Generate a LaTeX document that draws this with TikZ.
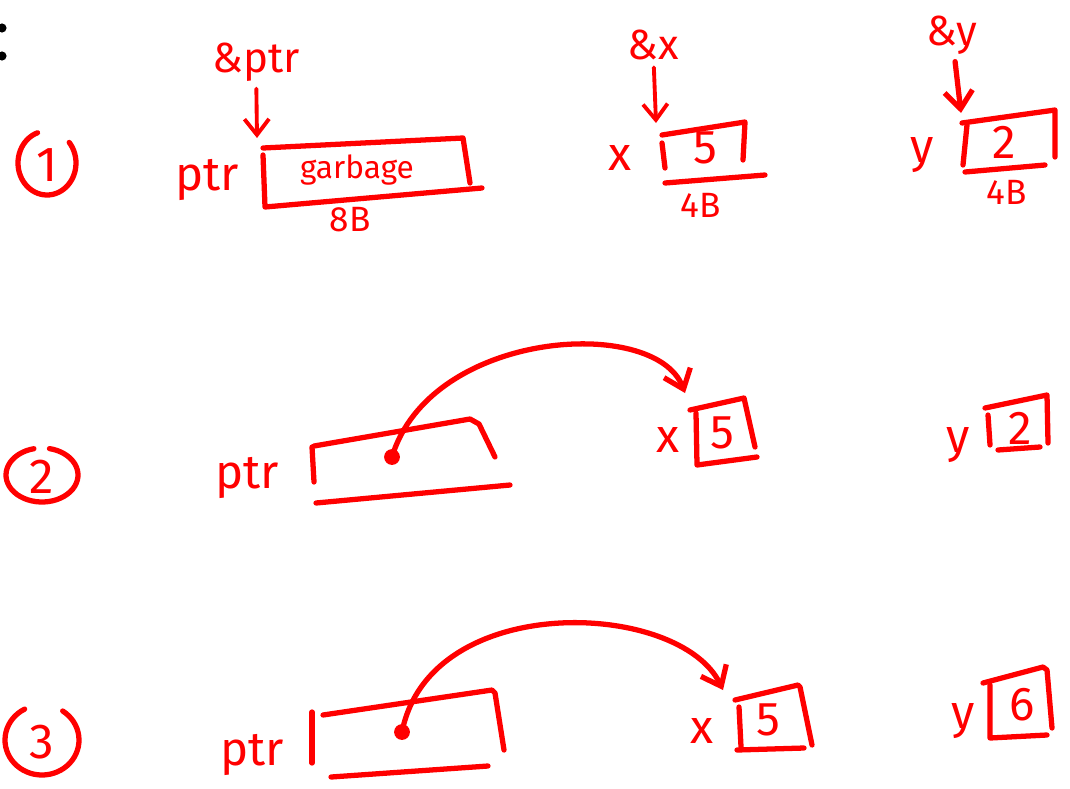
\documentclass[tikz,border=0pt]{standalone}
\usepackage{fontspec}
\setmainfont{Fira Sans}
\usetikzlibrary{arrows.meta,positioning}
\definecolor{inkred}{RGB}{255,0,0}

\begin{document}
\begin{tikzpicture}[x=0.02cm, y=-0.02cm,
        ink/.style={draw=inkred, line width=3pt, line cap=round, line join=round},
        arrow/.style={ink, line width=2.2pt, shorten <=4pt, -{Straight Barb[length=9pt, width=14pt]}},
        ptrarrow/.style={ink, -{Straight Barb[length=10pt, width=16pt]}},
        dot/.style={circle, fill=inkred, inner sep=0pt, minimum size=9pt},
        stepnum/.style={text=inkred, inner sep=0pt, font=\fontsize{28}{28}\selectfont},
        varname/.style={text=inkred, inner sep=0pt, font=\fontsize{27}{27}\selectfont},
        addr/.style={text=inkred, inner sep=0pt, font=\fontsize{24}{24}\selectfont},
        cell/.style={text=inkred, inner sep=0pt, font=\fontsize{27}{27}\selectfont},
        bytes/.style={text=inkred, inner sep=0pt, font=\fontsize{20}{20}\selectfont}]

        \useasboundingbox (0,0) rectangle (1070,788);

        % colon cut off at the edge
        \fill (2,28) circle[radius=2.6pt];
        \fill (2,56) circle[radius=2.6pt];

        % Step 1
        \node[stepnum] (n1) at (47,165) {1};
        \draw[ink] plot[domain=-40:251, samples=50] ({47+29*cos(\x)},{163+32*sin(\x)});

        \node[addr] (aptr) at (256,62) {\&ptr};
        \coordinate (ptrtip) at (257,138);
        \draw[arrow] (aptr) -- (ptrtip);
        \node[varname] (ptr1) at (207,180) {ptr};
        \draw[ink] (263,155) -- (265,207) -- (482,188);
        \draw[ink] (263,148) -- (463,138) -- (470,183);
        \node[text=inkred, font=\fontsize{18}{18}\selectfont] (garb) at (357,170) {garbage};
        \node[bytes] (sz1) at (350,220) {8B};

        \node[addr] (ax) at (653,45) {\&x};
        \coordinate (xtip) at (656,123);
        \draw[arrow] (ax) -- (xtip);
        \node[varname] (x1) at (620,158) {x};
        \draw[ink] (662,143) -- (665,168);
        \draw[ink] (662,135) -- (745,122) -- (743,160);
        \draw[ink] (665,183) -- (765,175);
        \node[cell] (vx1) at (705,148) {5};
        \node[bytes] (sz2) at (701,205) {4B};

        \node[addr] (ay) at (952,35) {\&y};
        \coordinate (ytip) at (961,113);
        \draw[ptrarrow, shorten <=4pt] (ay) -- (ytip);
        \node[varname] (y1) at (922,155) {y};
        \draw[ink] (962,123) -- (1055,110) -- (1055,157);
        \draw[ink] (967,125) -- (963,165);
        \draw[ink] (965,172) -- (1045,165);
        \node[cell] (vy1) at (1004,142) {2};
        \node[bytes] (sz3) at (1007,192) {4B};

        % Step 2
        \node[stepnum] (n2) at (42,477) {2};
        \draw[ink] plot[domain=-78:257, samples=50] ({42+36*cos(\x)},{475+27*sin(\x)});

        \node[varname] (ptr2) at (247,478) {ptr};
        \draw[ink] (312,447) -- (314,482);
        \draw[ink] (314,446) -- (470,419) -- (479,424) -- (495,457);
        \draw[ink] (316,503) -- (510,485);
        \node[dot] (p2) at (392,457) {};

        \node[varname] (x2) at (668,440) {x};
        \draw[ink] (690,410) -- (744,398) -- (755,447);
        \draw[ink] (696,413) -- (697,465) -- (757,457);
        \node[cell] (vx2) at (722,433) {5};
        \coordinate (xtip2) at (685,393);
        \draw[ptrarrow] (p2.center) .. controls (430,330) and (655,315) .. (xtip2);

        \node[varname] (y2) at (958,445) {y};
        \draw[ink] (985,408) -- (1047,395) -- (1048,443);
        \draw[ink] (988,415) -- (990,445);
        \draw[ink] (998,450) -- (1040,447);
        \node[cell] (vy2) at (1020,428) {2};

        % Step 3
        \node[stepnum] (n3) at (42,742) {3};
        \draw[ink] plot[domain=-56:242, samples=50] ({42+37*cos(\x)},{740+35*sin(\x)});

        \node[varname] (ptr3) at (252,755) {ptr};
        \draw[ink] (312,712) -- (312,763);
        \draw[ink] (323,715) -- (492,690) -- (495,693) -- (504,750);
        \draw[ink] (331,777) -- (488,766);
        \node[dot] (p3) at (402,732) {};

        \node[varname] (x3) at (702,731) {x};
        \draw[ink] (735,700) -- (798,685) -- (800,687) -- (812,745);
        \draw[ink] (739,707) -- (741,747);
        \draw[ink] (737,750) -- (804,748);
        \node[cell] (vx3) at (768,720) {5};
        \coordinate (xtip3) at (723,690);
        \draw[ptrarrow] (p3.center) .. controls (430,590) and (680,600) .. (xtip3);

        \node[varname] (y3) at (963,721) {y};
        \draw[ink] (983,683) -- (1043,667) -- (1047,670) -- (1052,728);
        \draw[ink] (990,685) -- (990,738) -- (1047,735);
        \node[cell] (vy3) at (1022,705) {6};

    \end{tikzpicture}
\end{document}
